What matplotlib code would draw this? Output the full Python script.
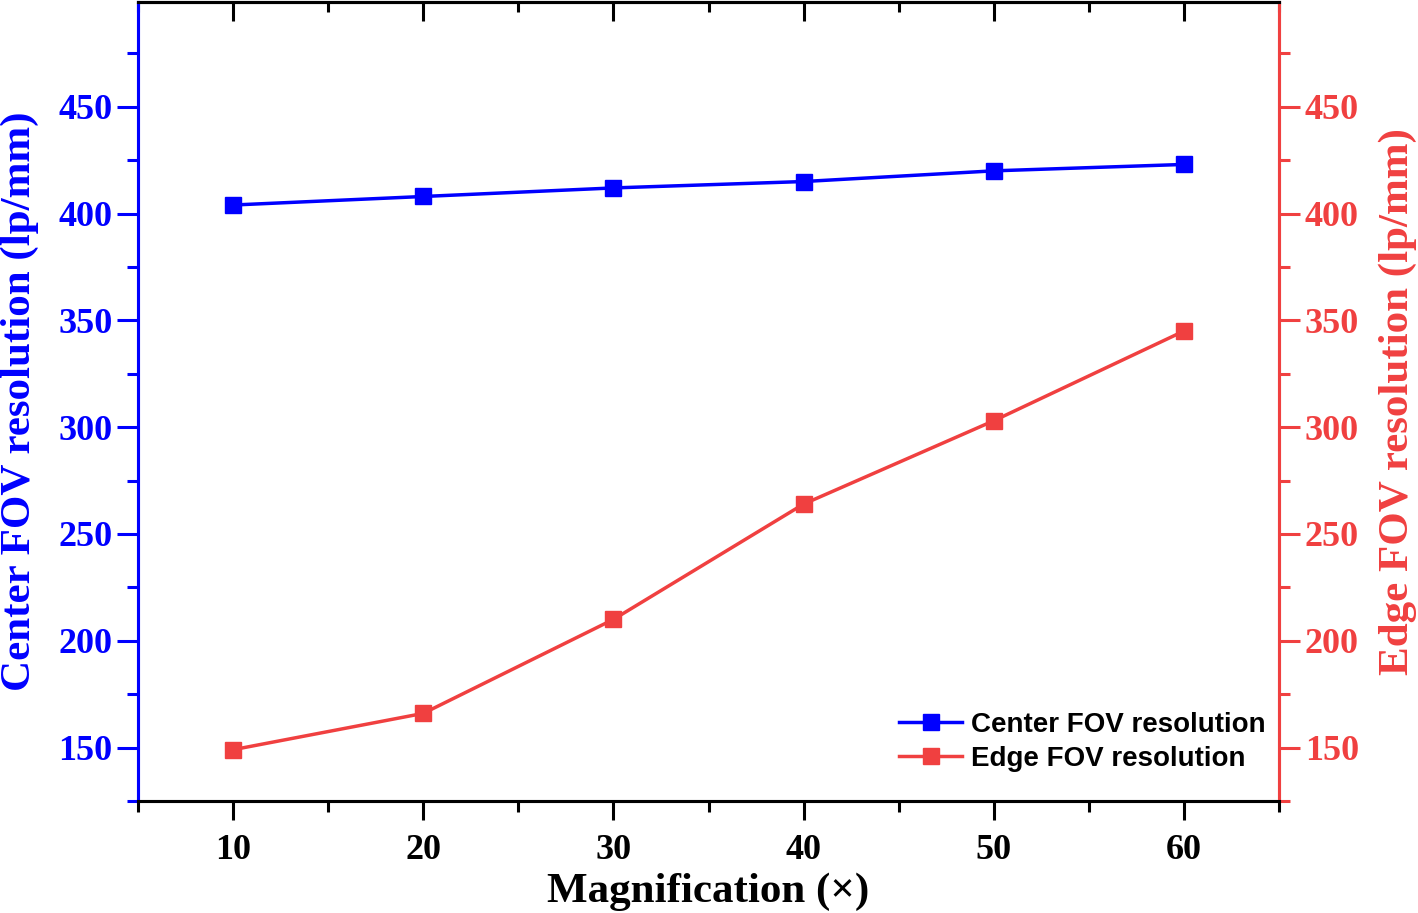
import matplotlib
matplotlib.use('Agg')
import matplotlib.pyplot as plt
from matplotlib.ticker import MultipleLocator

# data
magnification = [10, 20, 30, 40, 50, 60]
center_res = [404, 408, 412, 415, 420, 423]
edge_res = [149, 166, 210, 264, 303, 345]
y_ticks = [150, 200, 250, 300, 350, 400, 450]

blue = '#0000FF'
red = '#F04040'
serif = 'Liberation Serif'

fig = plt.figure(figsize=(14.18, 9.13), dpi=100)
ax = fig.add_axes([0.0973, 0.1227, 0.8047, 0.875])
ax2 = ax.twinx()

ax.plot(magnification, center_res, color=blue, lw=2.5, marker='s', ms=11,
        label='Center FOV resolution')
ax2.plot(magnification, edge_res, color=red, lw=2.5, marker='s', ms=11,
         label='Edge FOV resolution')

for a in (ax, ax2):
    a.set_xlim(5, 65)
    a.set_ylim(125, 499)
    a.set_yticks(y_ticks)
    a.yaxis.set_minor_locator(MultipleLocator(25))
    for s in a.spines.values():
        s.set_linewidth(2.2)

ax.set_xticks(magnification)
ax.xaxis.set_minor_locator(MultipleLocator(5))

ax.spines['left'].set_color(blue)
ax2.spines['right'].set_color(red)
ax2.spines['left'].set_color(blue)
ax.spines['right'].set_color(red)

ax.tick_params(axis='x', which='both', direction='out', top=False, width=2.2, color='black', pad=10)
ax.tick_params(axis='x', which='major', length=14)
ax.tick_params(axis='x', which='minor', length=8)
ax.tick_params(axis='y', which='both', direction='out', width=2.2, color=blue, labelcolor=blue)
ax.tick_params(axis='y', which='major', length=15)
ax.tick_params(axis='y', which='minor', length=8)
ax2.tick_params(axis='y', which='both', direction='out', width=2.2, color=red, labelcolor=red)
ax2.tick_params(axis='y', which='major', length=15)
ax2.tick_params(axis='y', which='minor', length=8)

# top ticks point inward
sec = ax.secondary_xaxis('top')
sec.set_xticks(magnification)
sec.xaxis.set_minor_locator(MultipleLocator(5))
sec.tick_params(which='both', direction='in', width=2.2, labeltop=False)
sec.tick_params(which='major', length=14)
sec.tick_params(which='minor', length=7)
sec.spines['top'].set_linewidth(2.2)

for lab in ax.get_xticklabels() + ax.get_yticklabels() + ax2.get_yticklabels():
    lab.set_fontfamily(serif)
    lab.set_fontweight('bold')
    lab.set_fontsize(26)

ax.set_xlabel('Magnification (×)', fontfamily=serif, fontweight='bold', fontsize=31, labelpad=4)
ax.set_ylabel('Center FOV resolution (lp/mm)', fontfamily=serif, fontweight='bold',
              fontsize=31, color=blue, labelpad=14)
ax2.set_ylabel('Edge FOV resolution (lp/mm)', fontfamily=serif, fontweight='bold',
               fontsize=31, color=red, labelpad=14)

h1, l1 = ax.get_legend_handles_labels()
h2, l2 = ax2.get_legend_handles_labels()
ax2.legend(h1 + h2, l1 + l2, loc='lower right', bbox_to_anchor=(1.01, 0.005), frameon=False,
           prop={'family': 'Liberation Sans', 'weight': 'bold', 'size': 20},
           handlelength=2.3, handletextpad=0.3, labelspacing=0.3)

fig.savefig('out.png', dpi=100)
